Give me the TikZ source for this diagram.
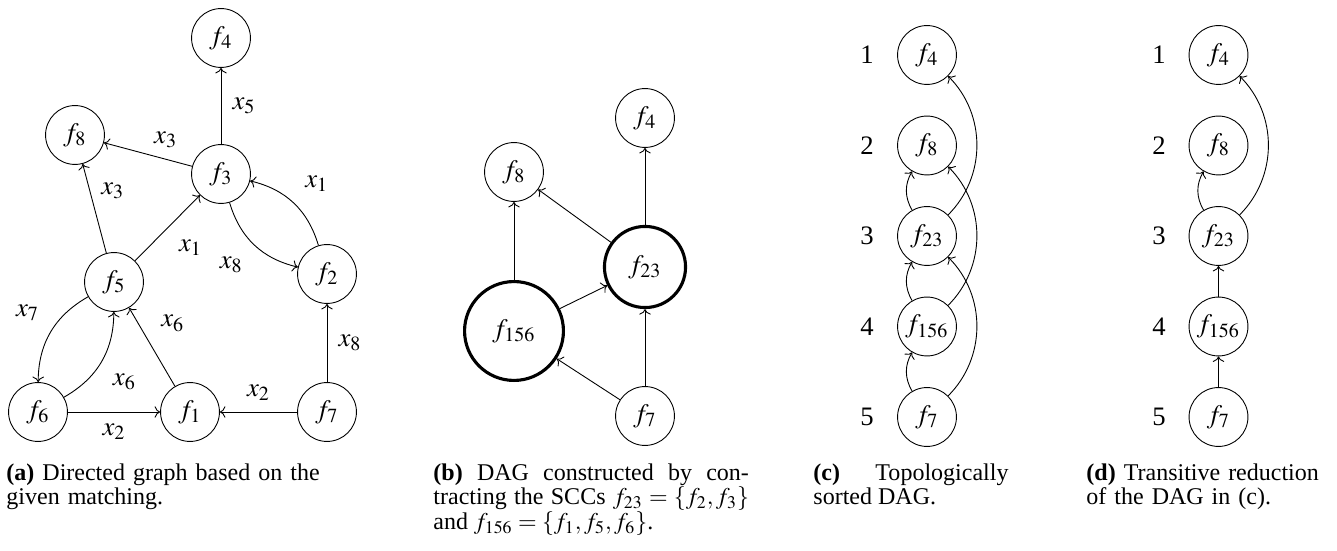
\documentclass[tikz,border=0pt]{standalone}
\usepackage{mathptmx}
\usepackage{fontspec}
\setmainfont{Liberation Serif}
\usetikzlibrary{arrows.meta}
\tikzset{
  vertex/.style={draw, circle, minimum size=26.5pt, inner sep=0pt},
  scc/.style={vertex, line width=1.4pt},
  link/.style={->},
  lbl/.style={inner sep=5pt},
  rank/.style={inner sep=0pt},
  caption/.style={inner sep=0pt, anchor=north west, font=\fontsize{10.8}{11.2}\selectfont}
}

\begin{document}
\begin{tikzpicture}[x=0.45pt, y=-0.45pt, font=\fontsize{12}{14}\selectfont]
  \useasboundingbox (0,0) rectangle (1337,551);

  % (a) directed graph
  \node[vertex] (a4) at (221,38) {$f_4$};
  \node[vertex] (a8) at (75,135) {$f_8$};
  \node[vertex] (a3) at (221,174) {$f_3$};
  \node[vertex] (a5) at (114,282) {$f_5$};
  \node[vertex] (a2) at (327,274) {$f_2$};
  \node[vertex] (a6) at (38,412) {$f_6$};
  \node[vertex] (a1) at (190,412) {$f_1$};
  \node[vertex] (a7) at (327,412) {$f_7$};

  \draw[link] (a3) -- node[lbl, right] {$x_5$} (a4);
  \draw[link] (a3) -- node[lbl, above, pos=0.3] {$x_3$} (a8);
  \draw[link] (a5) -- node[lbl, right, pos=0.7] {$x_3$} (a8);
  \draw[link] (a5) -- node[lbl, below right] {$x_1$} (a3);
  \draw[link] (a3) to[bend right=30] node[lbl, below left] {$x_8$} (a2);
  \draw[link] (a2) to[bend right=30] node[lbl, above right] {$x_1$} (a3);
  \draw[link] (a5) to[bend right=30] node[lbl, above left] {$x_7$} (a6);
  \draw[link] (a6) to[bend right=30] node[lbl, below right] {$x_6$} (a5);
  \draw[link] (a1) -- node[lbl, above right, pos=0.55] {$x_6$} (a5);
  \draw[link] (a6) -- node[lbl, below] {$x_2$} (a1);
  \draw[link] (a7) -- node[lbl, above] {$x_2$} (a1);
  \draw[link] (a7) -- node[lbl, right] {$x_8$} (a2);

  % (b) contracted DAG
  \node[vertex] (b4) at (645,118) {$f_4$};
  \node[vertex] (b8) at (514,172) {$f_8$};
  \node[scc, minimum size=36.5pt] (b23) at (645,267) {$f_{23}$};
  \node[scc, minimum size=44.5pt] (b156) at (514,331) {$f_{156}$};
  \node[vertex] (b7) at (645,416) {$f_7$};

  \draw[link] (b156) -- (b8);
  \draw[link] (b23) -- (b8);
  \draw[link] (b23) -- (b4);
  \draw[link] (b156) -- (b23);
  \draw[link] (b7) -- (b156);
  \draw[link] (b7) -- (b23);

  % (c) topological order
  \foreach \n [count=\i] in {4,8,23,156,7} {
    \node[vertex] (c\n) at (927,{55+90.5*(\i-1)}) {$f_{\n}$};
    \node[rank] (cr\i) at (867,{55+90.5*(\i-1)}) {\i};
  }
  \foreach \s/\t in {23/8,156/23,7/156}
    \draw[link] (c\s) to[bend left=30] (c\t);
  \foreach \s/\t in {23/4,156/8,7/23}
    \draw[link] (c\s) to[bend right=45] (c\t);

  % (d) transitive reduction
  \foreach \n [count=\i] in {4,8,23,156,7} {
    \node[vertex] (d\n) at (1218.5,{55+90.5*(\i-1)}) {$f_{\n}$};
    \node[rank] (dr\i) at (1159,{55+90.5*(\i-1)}) {\i};
  }
  \draw[link] (d23) to[bend left=30] (d8);
  \draw[link] (d23) to[bend right=45] (d4);
  \draw[link] (d156) -- (d23);
  \draw[link] (d7) -- (d156);

  % captions
  \node[caption, text width=160pt, align=left] (capa) at (6,463)
    {\textbf{(a)} Directed graph based on the\\given matching.};
  \node[caption, text width=142pt, align=justify] (capb) at (433,463)
    {\textbf{(b)} DAG constructed by con-\linebreak tracting the SCCs $f_{23}=\{f_2,f_3\}$\linebreak and $f_{156}=\{f_1,f_5,f_6\}$.};
  \node[caption, text width=87.75pt, align=justify] (capc) at (813,463)
    {\textbf{(c)} Topologically\linebreak sorted DAG.};
  \node[caption, text width=115pt, align=left] (capd) at (1086,463)
    {\textbf{(d)} Transitive reduction\\of the DAG in (c).};
\end{tikzpicture}
\end{document}
